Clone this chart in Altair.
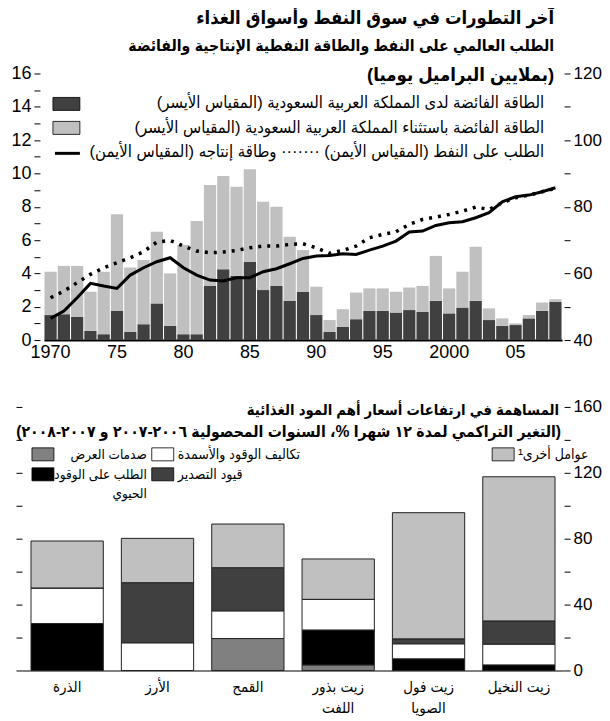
import altair as alt
import pandas as pd

FONT = "Liberation Sans, DejaVu Sans Condensed, DejaVu Sans, sans-serif"
RLE, PDF = "\u202b", "\u202c"

# ---------------- top panel data ----------------
years = list(range(1970, 2009))
saudi_spare = [1.5, 1.55, 1.4, 0.55, 0.35, 1.75, 0.5, 0.95, 2.2, 0.85,
               0.35, 0.35, 3.25, 4.25, 3.85, 4.7, 3.0, 3.25, 2.35, 2.9,
               1.5, 0.5, 0.8, 1.25, 1.75, 1.75, 1.65, 1.8, 1.7, 2.35,
               1.6, 1.95, 2.35, 1.2, 0.85, 0.9, 1.3, 1.75, 2.3]
other_spare = [2.6, 2.9, 3.05, 2.35, 3.75, 5.8, 3.85, 3.85, 4.3, 3.15,
               5.35, 6.8, 6.05, 5.6, 5.35, 5.55, 5.3, 4.75, 3.85, 2.5,
               1.7, 0.7, 1.05, 1.6, 1.35, 1.35, 1.25, 1.35, 1.55, 2.7,
               1.5, 2.15, 3.25, 0.7, 0.45, 0.1, 0.2, 0.5, 0.15]
oil_demand = [46.5, 48.7, 52.7, 57.0, 56.2, 55.5, 59.5, 61.7, 63.5, 64.7,
              61.7, 59.5, 58.0, 57.7, 58.7, 58.7, 60.5, 61.4, 62.9, 64.5,
              65.2, 65.4, 65.9, 65.7, 67.0, 68.2, 69.7, 72.4, 72.7, 74.4,
              75.2, 75.5, 76.7, 78.2, 81.5, 83.0, 83.5, 84.5, 85.7]
oil_capacity = [52.7, 54.7, 57.2, 59.7, 61.7, 63.2, 64.7, 66.5, 69.4, 69.9,
                68.2, 66.7, 66.2, 66.4, 66.9, 67.7, 68.2, 68.2, 68.7, 68.9,
                67.7, 66.0, 66.9, 68.2, 70.7, 71.7, 72.5, 74.7, 76.2, 76.9,
                77.7, 78.7, 79.9, 79.2, 81.2, 82.7, 83.5, 84.5, 85.5]
year_ticks = [1970, 1975, 1980, 1985, 1990, 1995, 2000, 2005]
year_tick_labels = ["1970", "75", "80", "85", "90", "95", "2000", "05"]
spare_colors = ["#404040", "#c0c0c0"]

# ---------------- bottom panel data ----------------
commodities = ["الذرة", "الأرز", "القمح", "زيت بذور\nاللفت", "زيت فول\nالصويا", "زيت النخيل"]
supply_shocks = [0, 0, 19.4, 3.4, 0, 0]
biofuel_demand = [28.5, 0, 0, 21.2, 7.1, 3.4]
fuel_fertilizer = [21.6, 16.8, 16.8, 18.6, 9.1, 12.6]
export_restrictions = [0, 36.5, 26.2, 0, 3.0, 14.1]
other_factors = [28.5, 26.9, 26.5, 24.5, 76.6, 87.5]
component_names = ["صدمات العرض", "الطلب على الوقود الحيوي", "تكاليف الوقود والأسمدة",
                   "قيود التصدير", "عوامل أخرى"]
component_colors = ["#808080", "#000000", "#ffffff", "#404040", "#c0c0c0"]

# ---------------- build tables ----------------
bar_rows = []
for i, y in enumerate(years):
    bar_rows.append({"year": y, "value": saudi_spare[i], "ord": 0, "clr": spare_colors[0]})
    bar_rows.append({"year": y, "value": other_spare[i], "ord": 1, "clr": spare_colors[1]})
df_bars = pd.DataFrame(bar_rows)
df_lines = pd.DataFrame({"year": years, "demand": oil_demand, "capacity": oil_capacity})

comp_series = [supply_shocks, biofuel_demand, fuel_fertilizer, export_restrictions, other_factors]
food_rows = []
for ci, name in enumerate(component_names):
    for k, c in enumerate(commodities):
        food_rows.append({"commodity": c, "component": name, "value": comp_series[ci][k],
                          "ord": ci, "clr": component_colors[ci]})
df_food = pd.DataFrame(food_rows)

label_map = "{" + ",".join(f"'{y}':'{l}'" for y, l in zip(year_ticks, year_tick_labels)) + "}"


def txt(text, x, y, size, bold=False, align="right"):
    return alt.Chart(pd.DataFrame({"t": [RLE + text + PDF]})).mark_text(
        align=align, baseline="middle", fontSize=size, font=FONT,
        fontWeight="bold" if bold else "normal", color="black"
    ).encode(x=alt.value(x), y=alt.value(y), text="t:N")


def box(x1, x2, y1, y2, color):
    return alt.Chart(pd.DataFrame({"a": [0]})).mark_rect(
        fill=color, stroke="#000000", strokeWidth=0.8
    ).encode(x=alt.value(x1), x2=alt.value(x2), y=alt.value(y1), y2=alt.value(y2))


def pin(x, y):
    return alt.Chart(pd.DataFrame({"a": [0]})).mark_rule(opacity=0).encode(
        x=alt.value(x), x2=alt.value(x + 1), y=alt.value(y))


# ---------------- top chart ----------------
W1, H1 = 541, 267
xs = alt.Scale(range=[22, W1], paddingInner=0.08, paddingOuter=0.04)
xaxis = alt.Axis(values=year_ticks, labelExpr=f"{label_map}[datum.label]", ticks=False,
                 domainColor="#000000", domainWidth=2, labelFontSize=18, labelFont=FONT,
                 labelColor="black", labelPadding=3, labelAngle=0, title=None, labelOverlap=False)

bars = alt.Chart(df_bars).mark_bar().encode(
    x=alt.X("year:O", scale=xs, axis=xaxis),
    y=alt.Y("value:Q", stack="zero", scale=alt.Scale(domain=[0, 16]),
            axis=alt.Axis(orient="left", values=list(range(0, 17)),
                          labelExpr="datum.value % 2 == 0 ? datum.label : ''",
                          domain=False, grid=False, tickSize=6, tickColor="black",
                          labelFontSize=18, labelFont=FONT, labelColor="black",
                          labelPadding=3, offset=-18, title=None)),
    color=alt.Color("clr:N", scale=None),
    order=alt.Order("ord:Q"),
)

right_axis = alt.Axis(orient="right", values=list(range(40, 121, 10)),
                      labelExpr="datum.value % 20 == 0 ? datum.label : ''",
                      domain=False, grid=False, tickSize=6, tickColor="black",
                      labelFontSize=17, labelFont=FONT, labelColor="black",
                      labelPadding=3, offset=2, title=None)
ys2 = alt.Scale(domain=[40, 120])
cap_line = alt.Chart(df_lines).mark_line(color="black", strokeWidth=3.5, strokeDash=[3, 6]).encode(
    x=alt.X("year:O", scale=xs, axis=xaxis),
    y=alt.Y("capacity:Q", scale=ys2, axis=right_axis),
)
dem_line = alt.Chart(df_lines).mark_line(color="black", strokeWidth=3).encode(
    x=alt.X("year:O", scale=xs, axis=xaxis),
    y=alt.Y("demand:Q", scale=ys2, axis=None),
)

top_texts = [
    pin(0, -64),
    txt("آخر التطورات في سوق النفط وأسواق الغذاء", 533, -55, 18.3, True),
    txt("الطلب العالمي على النفط والطاقة النفطية الإنتاجية والفائضة", 533, -28, 15.7, True),
    txt("(بملايين البراميل يوميا)", 533, 2, 18.5, True),
    txt("الطاقة الفائضة لدى المملكة العربية السعودية (المقياس الأيسر)", 523, 30, 16.6),
    txt("الطاقة الفائضة باستثناء المملكة العربية السعودية (المقياس الأيسر)", 523, 55, 16.6),
    txt("الطلب على النفط (المقياس الأيمن) ······· وطاقة إنتاجه (المقياس الأيمن)", 523, 79, 16.6),
    box(31, 58, 24, 37, spare_colors[0]),
    box(31, 58, 48, 61, spare_colors[1]),
    alt.Chart(pd.DataFrame({"a": [0]})).mark_rule(color="black", strokeWidth=3).encode(
        x=alt.value(33), x2=alt.value(58), y=alt.value(80)),
]

top = alt.layer(bars, cap_line, dem_line, *top_texts).resolve_scale(y="independent").properties(
    width=W1, height=H1)

# ---------------- bottom chart ----------------
W2, H2 = 543, 264
fx = alt.X("commodity:N", sort=commodities,
           scale=alt.Scale(paddingInner=0.2, paddingOuter=0.1),
           axis=alt.Axis(labelExpr="split(datum.label, '\\n')", ticks=False, domainColor="#808080",
                         domainWidth=2, labelFontSize=15, labelFont=FONT, labelColor="black",
                         labelPadding=9, labelAngle=0, labelLineHeight=21, title=None))
food_bars = alt.Chart(df_food).mark_bar(stroke="#222222", strokeWidth=1).encode(
    x=fx,
    y=alt.Y("value:Q", stack="zero", scale=alt.Scale(domain=[0, 160]),
            axis=alt.Axis(orient="left", values=list(range(0, 161, 20)), labels=False,
                          domain=False, grid=False, tickSize=6, tickColor="black", title=None)),
    color=alt.Color("clr:N", scale=None),
    order=alt.Order("ord:Q"),
)
food_ghost = alt.Chart(df_food).mark_bar(opacity=0).encode(
    x=fx,
    y=alt.Y("value:Q", stack="zero", scale=alt.Scale(domain=[0, 160]),
            axis=alt.Axis(orient="right", values=list(range(0, 161, 20)),
                          labelExpr="datum.value % 40 == 0 ? datum.label : ''",
                          domain=False, grid=False, tickSize=6, tickColor="black",
                          labelFontSize=17, labelFont=FONT, labelColor="black",
                          labelPadding=3, title=None)),
    order=alt.Order("ord:Q"),
)

bottom_texts = [
    pin(-14, 10),
    txt("المساهمة في ارتفاعات أسعار أهم المود الغذائية", 538, 4, 14.8, True),
    txt("(التغير التراكمي لمدة ١٢ شهرا %، السنوات المحصولية ٢٠٠٦-٢٠٠٧ و ٢٠٠٧-٢٠٠٨)", 540, 25, 15.7, True),
    box(10, 32, 41, 54, component_colors[0]),
    txt("صدمات العرض", 125, 48, 13.5),
    box(10, 32, 61, 74, component_colors[1]),
    txt("الطلب على الوقود", 125, 68, 13.5),
    txt("الحيوي", 125, 87, 13.5),
    box(130, 152, 41, 54, component_colors[2]),
    txt("تكاليف الوقود والأسمدة", 156, 48, 14, align="left"),
    box(130, 152, 61, 74, component_colors[3]),
    txt("قيود التصدير", 156, 68, 14, align="left"),
    box(471, 493, 41, 54, component_colors[4]),
    txt("عوامل أخرى¹", 497, 48, 14, align="left"),
]

bottom = alt.layer(food_bars, food_ghost, *bottom_texts).resolve_scale(y="independent").properties(
    width=W2, height=H2)

chart = alt.vconcat(top, bottom, spacing=37).properties(padding=0).configure_view(stroke=None)
chart.save("out.html", embed_options={"renderer": "svg", "actions": False})
